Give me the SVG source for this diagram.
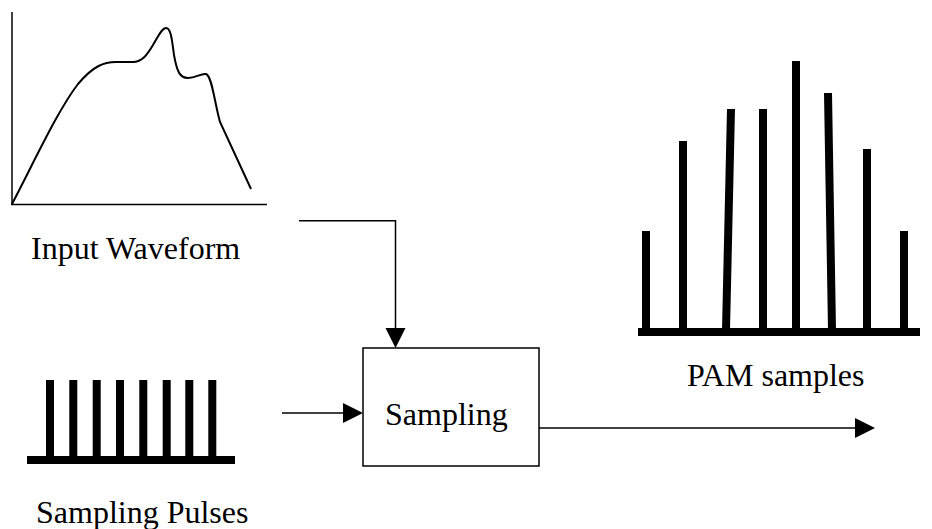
<svg xmlns="http://www.w3.org/2000/svg" width="932" height="529" viewBox="0 0 932 529">
<style>
.lbl{font-family:"Liberation Serif","Times New Roman",serif;font-size:32px;fill:#000}
.thin{fill:none;stroke:#000;stroke-width:1.5}
.thick{fill:none;stroke:#000;stroke-width:8}
.head{fill:#000}
</style>
<rect width="932" height="529" fill="#fff"/>
<g id="input-waveform">
<line class="thin" x1="12" y1="12" x2="12" y2="205"/>
<line class="thin" x1="11" y1="204.5" x2="267" y2="204.5"/>
<path fill="none" stroke="#000" stroke-width="2" d="M12,204 C35,160 58,110 78,84 C93,66 104,62 116,62 L133,62 C142,62 147,55 153,45 C159,35 162,28 166,28 C171,28 172,40 174,55 C177,72 180,78 188,78 C196,78 201,73 206,74 C212,76 214,100 220,122 L251,189"/>
<text class="lbl" x="31" y="259">Input Waveform</text>
</g>
<g id="sampling-pulses">
<rect x="27" y="456" width="208" height="8" fill="#000"/>
<path class="thick" d="M50,380V458 M73.3,380V458 M96.7,380V458 M120,380V458 M143.3,380V458 M166.7,380V458 M189.3,380V458 M212.3,380V458"/>
<text class="lbl" x="36" y="523">Sampling Pulses</text>
</g>
<g id="sampling">
<rect class="thin" x="363" y="348" width="176" height="118" fill="#fff"/>
<text class="lbl" x="385" y="425">Sampling</text>
</g>
<g id="pam-samples">
<rect x="638" y="328" width="282" height="8" fill="#000"/>
<path class="thick" d="M646,330V231 M683,330V141 M726,330L731,109 M763,330V109 M796,330V61 M832,330L828,93 M867,330V149 M904,330V231"/>
<text class="lbl" x="687" y="386">PAM samples</text>
</g>
<g id="connectors">
<polyline class="thin" points="299,220.7 395.5,220.7 395.5,330"/>
<polygon class="head" points="385.5,328 405.5,328 395.5,348"/>
<line class="thin" x1="282" y1="413" x2="345" y2="413"/>
<polygon class="head" points="343,403 343,423 363,413"/>
<line class="thin" x1="539" y1="428" x2="857" y2="428"/>
<polygon class="head" points="855,418 855,438 875,428"/>
</g>
</svg>
